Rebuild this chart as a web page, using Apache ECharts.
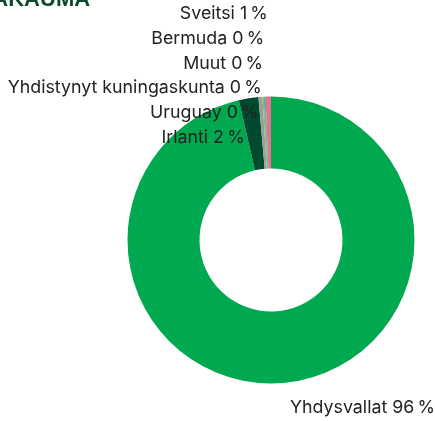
<!DOCTYPE html>
<html>
<head>
<meta charset="utf-8">
<script src="https://cdn.jsdelivr.net/npm/echarts@6/dist/echarts.min.js"></script>
<style>
  html, body { margin: 0; padding: 0; background: #fff; }
  #chart { width: 435px; height: 421px; }
</style>
</head>
<body>
<div id="chart"></div>
<script>
// Country allocation (% of holdings)
const countries = ['Yhdysvallat', 'Irlanti', 'Uruguay', 'Yhdistynyt kuningaskunta', 'Muut', 'Bermuda', 'Sveitsi'];
const shares = [96.4, 2.2, 0.45, 0.15, 0.1, 0.1, 0.6];
const sliceColors = ['#00a94f', '#004a2f', '#9b9ea1', '#8cc63f', '#3fae6a', '#4a8fd8', '#e4738f'];

const chart = echarts.init(document.getElementById('chart'), null, { renderer: 'canvas' });

const total = shares.reduce((a, b) => a + b, 0);

chart.setOption({
  animation: false,
  graphic: [{
    type: 'text',
    left: -70,
    top: -11,
    style: {
      text: 'MAAJAKAUMA',
      font: 'bold 22px "Liberation Sans", Arial, sans-serif',
      fill: '#0b4a2b'
    }
  }],
  series: [{
    type: 'pie',
    center: [271, 240],
    radius: [71.5, 143.5],
    startAngle: 90,
    clockwise: true,
    avoidLabelOverlap: false,
    // the small slices crowd together at the top: lift their labels into a stack above the ring
    labelLayout: p => (p.dataIndex > 0 ? { dy: -57.5, moveOverlap: 'shiftY' } : {}),
    itemStyle: { borderWidth: 0 },
    label: {
      show: true,
      position: 'outer',
      distanceToLabelLine: 0,
      overflow: 'none',
      color: '#222',
      fontFamily: 'Inter, "Noto Sans", sans-serif',
      fontSize: 17.8,
      lineHeight: 24.7,
      formatter: p => p.name + ' ' + Math.round(p.value / total * 100) + '\u2009%'
    },
    labelLine: { show: false, length: 25, length2: 0 },
    data: countries.map((name, i) => ({
      name: name,
      value: shares[i],
      itemStyle: { color: sliceColors[i] }
    }))
  }]
});
</script>
</body>
</html>
